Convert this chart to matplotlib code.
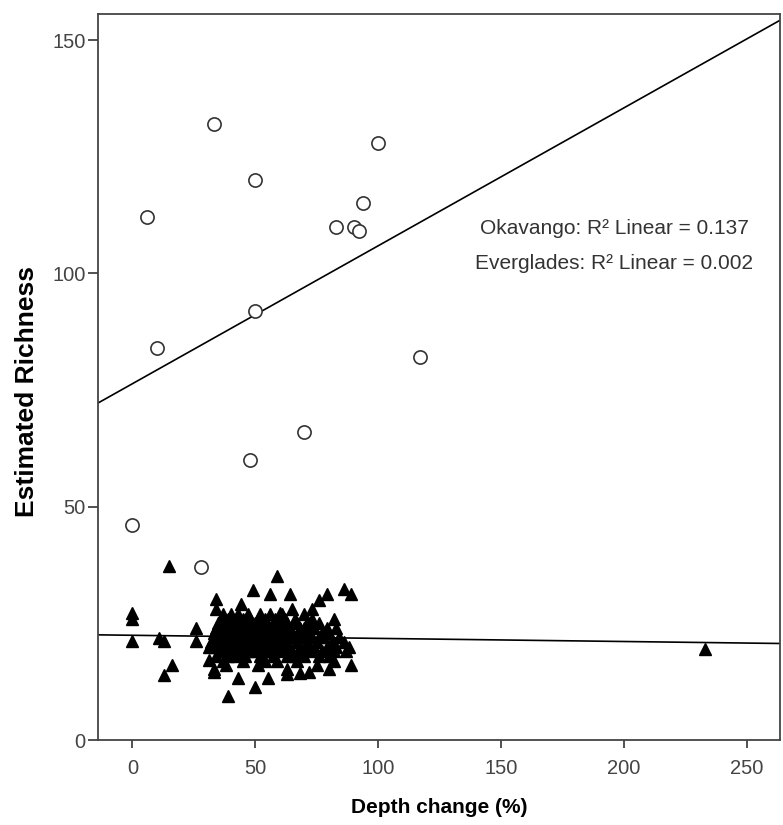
import numpy as np
import matplotlib
matplotlib.use('Agg')
from matplotlib import pyplot as plt

# Okavango sites (open circles)
oka_depth = [33, 100, 50, 6, 94, 83, 90, 92, 50, 10, 117, 70, 48, 0, 28]
oka_rich = [132, 128, 120, 112, 115, 110, 110, 109, 92, 84, 82, 66, 60, 46, 37]

# Everglades sites (filled triangles) - scattered points
ev_depth = [15, 59, 49, 56, 64, 86, 89, 79, 76, 34,
            34, 44, 73, 65, 60, 82, 73, 0, 0, 0,
            11, 13, 26, 26, 16, 13, 39, 50, 43, 55,
            89, 33, 33, 31, 38, 51, 63, 68, 72, 80,
            82, 75, 63, 233]
ev_rich = [37.4, 35.2, 32.2, 31.2, 31.2, 32.3, 31.2, 31.2, 30, 30.2,
           28.1, 29.2, 28.1, 28.1, 27.2, 25.9, 25.9, 27.2, 25.9, 21.3,
           21.9, 21.3, 24, 21.3, 16.1, 14, 9.4, 11.3, 13.2, 13.2,
           16.1, 14.5, 15.3, 17.2, 16, 16, 15.2, 14.3, 14.5, 15.2,
           16.9, 16.1, 14.2, 19.5]

# Everglades dense cluster, grouped by richness value
ev_cluster = [
    (27, [37, 40, 43, 47, 52, 56, 61, 70]),
    (26, [36, 39, 42, 45, 48, 51, 54, 58, 62, 66]),
    (25, [35, 38, 41, 44, 46, 50, 53, 57, 60, 63, 67, 71, 76]),
    (24, [34, 37, 40, 43, 47, 49, 52, 55, 59, 61, 64, 68, 70, 74, 79, 83]),
    (23, [33, 36, 39, 42, 45, 48, 51, 54, 56, 58, 62, 65, 69, 72, 77, 80]),
    (22, [35, 38, 41, 44, 47, 50, 53, 57, 60, 63, 66, 70, 73, 76, 78, 84]),
    (21, [32, 36, 40, 43, 46, 49, 52, 55, 59, 62, 67, 71, 75, 81, 86]),
    (20, [31, 34, 38, 42, 45, 48, 51, 54, 58, 61, 64, 68, 72, 74, 79, 83, 88]),
    (19, [36, 40, 44, 47, 50, 53, 56, 60, 65, 69, 73, 77, 82, 87]),
    (18, [34, 39, 42, 46, 52, 57, 63, 66, 70, 76, 80]),
    (17, [37, 45, 54, 59, 67]),
]

for r, ds in ev_cluster:
    ev_depth += ds
    ev_rich += [r] * len(ds)

r2_lines = ["Okavango: R\u00b2 Linear = 0.137",
            "Everglades: R\u00b2 Linear = 0.002"]

plt.rcParams['font.family'] = ['Liberation Sans', 'DejaVu Sans']

fig = plt.figure(figsize=(7.83, 8.25), dpi=100)
ax = fig.add_axes([0.1252, 0.1030, 0.8710, 0.8800])

xlim = (-14, 263.5)
ax.set_xlim(xlim)
ax.set_ylim(0, 155.6)

# linear fit lines across the full x range
xs = np.array(xlim)
for dx, ry in [(oka_depth, oka_rich), (ev_depth, ev_rich)]:
    k, b = np.polyfit(dx, ry, 1)
    ax.plot(xs, k * xs + b, color='black', lw=1.2, zorder=2)

ax.plot(ev_depth, ev_rich, linestyle='none', marker='^', markersize=8,
        color='black', zorder=3)
ax.plot(oka_depth, oka_rich, linestyle='none', marker='o', markersize=9.5,
        markerfacecolor='white', markeredgecolor='#333333', markeredgewidth=1.2,
        zorder=4)

ax.text(196, 109.7, r2_lines[0], ha='center', va='center', fontsize=15,
        color='#333333')
ax.text(196, 102.2, r2_lines[1], ha='center', va='center', fontsize=15,
        color='#333333')

ax.set_xticks([0, 50, 100, 150, 200, 250])
ax.set_yticks([0, 50, 100, 150])
ax.tick_params(axis='x', length=6, width=1.2, color='#333333', pad=8,
               labelsize=14.5, labelcolor='#444444')
ax.tick_params(axis='y', length=7, width=1.2, color='#333333', pad=2,
               labelsize=14.5, labelcolor='#444444')
for s in ax.spines.values():
    s.set_color('#444444')
    s.set_linewidth(1.3)

ax.set_xlabel('Depth change (%)', fontsize=15, fontweight='bold', labelpad=14)
ax.set_ylabel('Estimated Richness', fontsize=19, fontweight='bold')
ax.yaxis.set_label_coords(-0.087, 0.48)

plt.savefig('out.png', dpi=100)
plt.close()
